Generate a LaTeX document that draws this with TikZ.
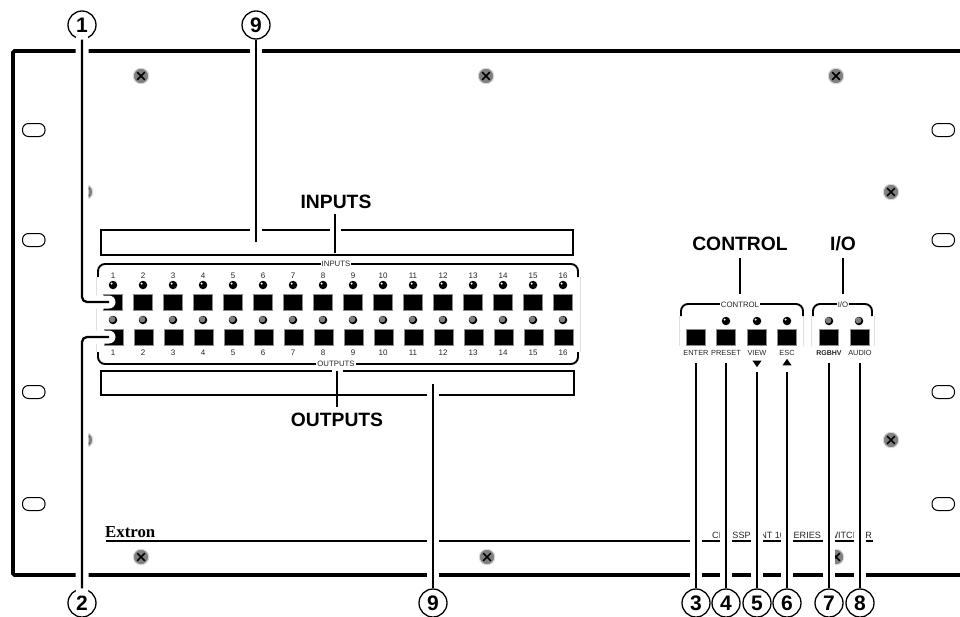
\documentclass[tikz,border=0pt]{standalone}
\usepackage{fontspec}
\setmainfont{Liberation Sans}
\newfontfamily\serifx{Liberation Serif}
\usetikzlibrary{shapes.geometric}
\tikzset{
  x=1pt,y=-1pt,
  callout/.style={circle,draw=black,line width=1.3pt,fill=white,minimum size=28pt,inner sep=0pt,font=\fontsize{21}{21}\selectfont\bfseries},
  leader/.style={line width=2.3pt,rounded corners=5pt},
  halo/.style={white,line width=12pt},
  haloend/.style={white,line width=13pt,line cap=round,rounded corners=5pt},
  heading/.style={inner sep=0pt,font=\fontsize{19.3}{19.3}\selectfont\bfseries},
  tiny/.style={inner sep=0pt,font=\fontsize{8}{8}\selectfont,text=black!85},
  keylabel/.style={inner sep=0pt,font=\fontsize{7.4}{7.4}\selectfont,text=black!85},
  framelabel/.style={fill=white,inner sep=1pt,font=\fontsize{7.8}{7.8}\selectfont,text=black!85},
  btn/.style={rectangle,fill=black,draw=black!45,line width=.7pt,minimum width=19pt,minimum height=16pt,inner sep=0pt},
  ledon/.style={circle,fill=black,minimum size=8.5pt,inner sep=0pt},
  ledoff/.style={circle,fill=black,minimum size=8.5pt,inner sep=0pt},
  screwb/.style={circle,fill=black!50,draw=black!15,line width=1pt,minimum size=15.5pt,inner sep=0pt},
  rim/.style={line width=1.9pt,rounded corners=7pt},
}
\newcommand{\onspot}[1]{\fill[white] ([shift={(-1.4,-1.4)}]#1.center) circle (1.1pt);}
\newcommand{\offspot}[1]{\fill[black!50] ([shift={(-.7,-.7)}]#1.center) circle (3.1pt);}
\newcommand{\screw}[3]{\node[screwb] (#1) at (#2,#3) {};
  \draw[line width=1.6pt] ([shift={(-3.8,-3.8)}]#1.center) -- ([shift={(3.8,3.8)}]#1.center);
  \draw[line width=1.6pt] ([shift={(-3.8,3.8)}]#1.center) -- ([shift={(3.8,-3.8)}]#1.center);}
\begin{document}
\begin{tikzpicture}
\useasboundingbox (0,0) rectangle (960,616);
\clip (0,0) rectangle (960,616);
\fill[white] (0,0) rectangle (960,616);

% chassis
\draw[line width=3.8pt,rounded corners=1.5pt] (960,51) -- (13,51) -- (13,575) -- (960,575);
\foreach \n/\y in {a/130,b/240,c/392,d/504}{
  \draw[line width=1pt,rounded corners=6pt] (22.5,\y-6.5) rectangle (45,\y+6.5);
  \draw[line width=1pt,rounded corners=6pt] (932,\y-6.5) rectangle (954.5,\y+6.5);
}
\screw{s1}{141}{76}\screw{s2}{486}{76}\screw{s3}{836}{76}
\screw{s4}{891}{192}\screw{s5}{891}{440}
\screw{s6}{85}{192}\screw{s7}{85}{440}
\screw{s8}{141}{557}\screw{s9}{487}{557}\screw{s10}{836}{557}

% logo and model line
\node[inner sep=0pt,anchor=south west,font=\serifx\fontsize{16.8}{16.8}\selectfont\bfseries] (logo) at (105,538) {Extron};
\draw[line width=2pt] (106,541) -- (873,541);
\node[inner sep=0pt,anchor=base west,font=\fontsize{9.1}{9.1}\selectfont,text=black!85] (model) at (712,538) {CROSSPOINT 16 SERIES SWITCHER};

% label strips
\draw[line width=1.5pt] (101,230) rectangle (573,255);
\draw[line width=1.5pt] (101,371) rectangle (574,395);

% input/output frame
\draw[black!12,line width=.8pt] (96,277) -- (96,352) (580,277) -- (580,352);
\draw[rim] (98,277) -- (98,264) -- (578,264) -- (578,277);
\draw[rim] (98,352) -- (98,364) -- (578,364) -- (578,352);
\node[framelabel] (lin) at (336,264) {INPUTS};
\node[framelabel] (lout) at (336,364) {OUTPUTS};

% input and output buttons
\foreach \i [evaluate=\i as \x using int(83+30*\i), evaluate=\i as \xx using int(84+30*\i)] in {1,...,16}{
  \node[tiny] (nt\i) at (\x,276) {\i};
  \node[ledon] (lt\i) at (\x,285) {}; \onspot{lt\i}
  \node[btn] (bt\i) at (\x,302) {};
  \node[ledoff] (lb\i) at (\x,320) {}; \offspot{lb\i}
  \node[btn] (bb\i) at (\xx,337) {};
  \node[tiny] (nb\i) at (\x,353) {\i};
}

% control and I/O frames
\draw[black!12,line width=.8pt] (679,316) -- (679,346) (803,316) -- (803,346) (811,316) -- (811,346) (874,316) -- (874,346);
\draw[rim] (681,316) -- (681,304) -- (803,304) -- (803,316);
\draw[rim] (813,316) -- (813,304) -- (872,304) -- (872,316);
\node[framelabel] (lctl) at (740,305) {CONTROL};
\node[framelabel] (lio) at (843,305) {I/O};
\foreach \n/\x/\t in {c3/696/ENTER,c4/726/PRESET,c5/757/VIEW,c6/787/ESC,c8/860/AUDIO}{
  \node[btn] (b\n) at (\x,337) {};
  \node[keylabel] (t\n) at (\x,353) {\t};
}
\node[btn] (bc7) at (829,337) {};
\node[keylabel,font=\fontsize{7}{7}\selectfont\bfseries] (tc7) at (829,353) {RGBHV};
\foreach \n/\x in {c4/726,c5/757,c6/787}{
  \node[ledon] (l\n) at (\x,321) {}; \onspot{l\n}
}
\foreach \n/\x in {c7/829,c8/859}{
  \node[ledoff] (l\n) at (\x,321) {}; \offspot{l\n}
}
\node[isosceles triangle,isosceles triangle apex angle=70,shape border rotate=-90,fill=black,minimum size=6.5pt,inner sep=0pt] (tdown) at (757,363) {};
\node[isosceles triangle,isosceles triangle apex angle=70,shape border rotate=90,fill=black,minimum size=6.5pt,inner sep=0pt] (tup) at (787,363) {};

% section headings
\node[heading] (hin) at (336,202) {INPUTS};
\node[heading] (hout) at (337,420) {OUTPUTS};
\node[heading] (hctl) at (740,244) {CONTROL};
\node[heading] (hio) at (843,244) {I/O};
\draw[white,line width=11pt] (335,214) -- (335,240);
\draw[white,line width=11pt] (337,366) -- (337,385);
\coordinate (inA) at (335,214);
\coordinate (inB) at (335,253);
\coordinate (outA) at (337,407);
\coordinate (outB) at (337,371);
\coordinate (ctlA) at (740,258);
\coordinate (ctlB) at (740,294);
\coordinate (ioA) at (843,258);
\coordinate (ioB) at (843,294);
\draw[line width=2.2pt] (inA) -- (inB);
\draw[line width=2.2pt] (outA) -- (outB);
\draw[line width=2.2pt] (ctlA) -- (ctlB);
\draw[line width=2.2pt] (ioA) -- (ioB);

% callouts
\node[callout] (c1) at (82,25) {1};
\node[callout] (c9a) at (256,25) {9};
\node[callout] (c2) at (82,603) {2};
\node[callout] (c9b) at (433,603) {9};
\node[callout] (c3) at (696,603) {3};
\node[callout] (c4) at (726,603) {4};
\node[callout] (c5) at (757,603) {5};
\node[callout] (c6) at (787,603) {6};
\node[callout] (c7) at (829,603) {7};
\node[callout] (c8) at (860,603) {8};

\coordinate (e1) at (109,302);
\coordinate (e2) at (109,337);
\coordinate (e9a) at (256,242);
\coordinate (e9b) at (433,384);
\draw[haloend] (82,40) |- (e1);
\draw[haloend] (82,589) |- (e2);
\draw[halo] (c9a.south) -- (e9a);
\draw[halo] (c9b.north) -- (e9b);
\draw[leader] (c1.south) |- (e1);
\draw[leader] (c2.north) |- (e2);
\draw[leader] (c9a.south) -- (e9a);
\draw[leader] (c9b.north) -- (e9b);

\coordinate (e3) at (696,363);
\coordinate (e4) at (726,363);
\coordinate (e5) at (757,372);
\coordinate (e6) at (787,372);
\coordinate (e7) at (829,363);
\coordinate (e8) at (860,363);
\foreach \k in {3,...,8}{
  \draw[halo] (c\k.north) -- (e\k);
  \draw[leader] (c\k.north) -- (e\k);
}
\end{tikzpicture}
\end{document}
